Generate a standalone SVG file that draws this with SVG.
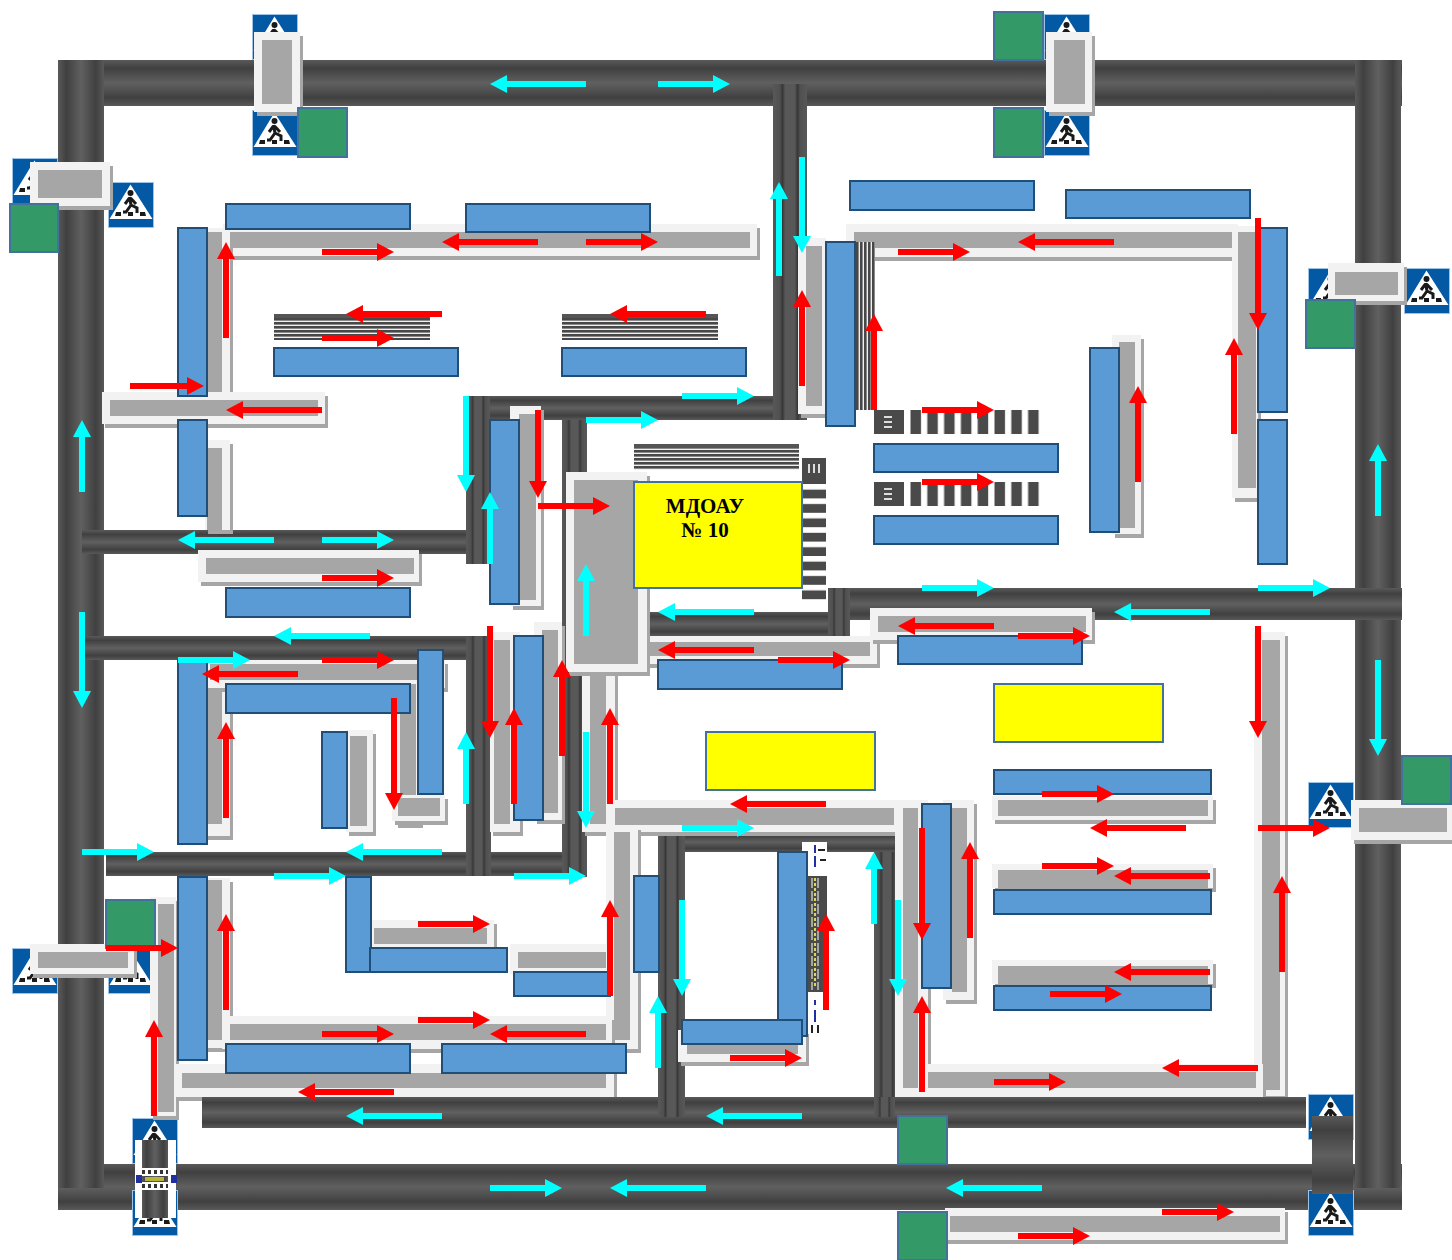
<svg xmlns="http://www.w3.org/2000/svg" width="1452" height="1260" viewBox="0 0 1452 1260">
<style>
.bg{fill:#fff}
.rh{fill:url(#gh)}
.rv{fill:url(#gv)}
.rd{fill:url(#gd)}
.po{fill:#f2f2f2;filter:url(#sh)}
.pi{fill:#a6a6a6}
.b{fill:#5b9bd5;stroke:#1f4e79;stroke-width:2}
.g{fill:#339966;stroke:#41719c;stroke-width:2}
.y{fill:#ffff00;stroke:#41719c;stroke-width:2}
.r{fill:none;stroke:#ff0000;stroke-width:6;marker-end:url(#mr)}
.c{fill:none;stroke:#00ffff;stroke-width:6;marker-end:url(#mc)}
.t{font-family:"Liberation Serif","Times New Roman",serif;font-weight:bold;font-size:21px;fill:#000;text-anchor:middle}
</style>
<defs>
<linearGradient id="gh" x1="0" y1="0" x2="0" y2="1"><stop offset="0" stop-color="#595959"/><stop offset=".18" stop-color="#404040"/><stop offset=".5" stop-color="#606060"/><stop offset=".82" stop-color="#404040"/><stop offset="1" stop-color="#595959"/></linearGradient>
<linearGradient id="gv" x1="0" y1="0" x2="1" y2="0"><stop offset="0" stop-color="#595959"/><stop offset=".18" stop-color="#404040"/><stop offset=".5" stop-color="#606060"/><stop offset=".82" stop-color="#404040"/><stop offset="1" stop-color="#595959"/></linearGradient>
<linearGradient id="gd" x1="0" y1="0" x2="1" y2="0"><stop offset="0" stop-color="#585858"/><stop offset=".2" stop-color="#505050"/><stop offset=".28" stop-color="#383838"/><stop offset=".36" stop-color="#585858"/><stop offset=".64" stop-color="#585858"/><stop offset=".72" stop-color="#383838"/><stop offset=".8" stop-color="#505050"/><stop offset="1" stop-color="#585858"/></linearGradient>
<filter id="sh" x="-10%" y="-10%" width="125%" height="125%"><feDropShadow dx="3" dy="4" stdDeviation="0" flood-color="#a6a6a6"/></filter>
<marker id="mr" markerUnits="userSpaceOnUse" markerWidth="18" markerHeight="18" viewBox="0 0 17 18" refX="1" refY="9" orient="auto"><path d="M0 0L17 9L0 18z" fill="#ff0000"/></marker>
<marker id="mc" markerUnits="userSpaceOnUse" markerWidth="18" markerHeight="18" viewBox="0 0 17 18" refX="1" refY="9" orient="auto"><path d="M0 0L17 9L0 18z" fill="#00ffff"/></marker>
<pattern id="ps" width="4" height="4" patternUnits="userSpaceOnUse" y="2"><rect width="4" height="4" fill="#f0f0f0"/><rect width="4" height="2.6" fill="#484848"/></pattern>
<pattern id="pv" width="4" height="4" patternUnits="userSpaceOnUse"><rect width="4" height="4" fill="#f0f0f0"/><rect width="2.6" height="4" fill="#484848"/></pattern>
<pattern id="pb" width="16.8" height="24" patternUnits="userSpaceOnUse" x="910"><rect width="16.8" height="24" fill="#fff"/><rect width="10.5" height="24" x=".5" fill="#4a4a4a"/></pattern>
<pattern id="pz" width="24" height="14.4" patternUnits="userSpaceOnUse" y="484"><rect width="24" height="14.4" fill="#4a4a4a"/><rect width="24" height="5.6" fill="#fff"/></pattern>
<g id="sign"><rect x=".5" y=".5" width="45" height="45" fill="#0359a4" stroke="#9dc3e6"/><path d="M22.5 2.5L44.5 37H1.5z" fill="#fff"/><circle cx="22.5" cy="11" r="3" fill="#1a1a1a"/><path d="M21.5 15L23 23M21.5 16L17 22M22.5 16L28 22M23 23L18 30H15M23 23L29 26V31" fill="none" stroke="#1a1a1a" stroke-width="3"/><path d="M8 30h5v4H7zM20 30h5v4h-5zM32 30h5l1 4h-6z" fill="#1a1a1a"/></g>
</defs>
<rect class="bg" width="1452" height="1260"/>

<g id="roads">
<rect class="rh" x="58" y="60" width="1344" height="46"/>
<rect class="rh" x="58" y="1164" width="1344" height="46"/>
<rect class="rv" x="58" y="60" width="46" height="1128"/>
<rect class="rv" x="1355" y="60" width="46" height="1128"/>
<rect class="rh" x="490" y="396" width="284" height="24"/>
<rect class="rh" x="82" y="530" width="386" height="24"/>
<rect class="rh" x="84" y="636" width="384" height="24"/>
<rect class="rh" x="646" y="612" width="184" height="24"/>
<rect class="rh" x="850" y="588" width="552" height="32"/>
<rect class="rh" x="106" y="852" width="480" height="24"/>
<rect class="rh" x="658" y="832" width="238" height="20"/>
<rect class="rd" x="773" y="84" width="34" height="336"/>
<rect class="rd" x="466" y="396" width="24" height="168"/>
<rect class="rd" x="562" y="420" width="25" height="457"/>
<rect class="rd" x="466" y="636" width="25" height="240"/>
<rect class="rd" x="828" y="588" width="22" height="48"/>
<rect class="rd" x="658" y="832" width="27" height="285"/>
<rect class="rd" x="874" y="852" width="26" height="265"/>
</g>

<g id="signs">
<use id="sign-1" href="#sign" x="252" y="14"/>
<use id="sign-2" href="#sign" x="252" y="110"/>
<use id="sign-3" href="#sign" x="1044" y="14"/>
<use id="sign-4" href="#sign" x="1044" y="110"/>
<use id="sign-5" href="#sign" x="12" y="158"/>
<use id="sign-6" href="#sign" x="108" y="182"/>
<use id="sign-7" href="#sign" x="1308" y="268"/>
<use id="sign-8" href="#sign" x="1404" y="268"/>
<use id="sign-9" href="#sign" x="1308" y="782"/>
<use id="sign-16" href="#sign" x="1404" y="796"/>
<use id="sign-10" href="#sign" x="12" y="948"/>
<use id="sign-11" href="#sign" x="108" y="948"/>
<use id="sign-12" href="#sign" x="132" y="1118"/>
<use id="sign-13" href="#sign" x="132" y="1190"/>
<use id="sign-14" href="#sign" x="1308" y="1094"/>
<use id="sign-15" href="#sign" x="1308" y="1190"/>
</g>

<g id="pads">
<g id="pad-1"><rect class="po" x="254" y="32" width="46" height="80"/><rect class="pi" x="262" y="40" width="30" height="64"/></g>
<g id="pad-2"><rect class="po" x="1046" y="32" width="46" height="80"/><rect class="pi" x="1054" y="40" width="31" height="64"/></g>
<g id="pad-3"><rect class="po" x="30" y="162" width="80" height="44"/><rect class="pi" x="38" y="170" width="64" height="28"/></g>
<g id="pad-4"><rect class="po" x="1328" y="263" width="76" height="38"/><rect class="pi" x="1335" y="272" width="63" height="23"/></g>
<g id="pad-5"><rect class="po" x="1351" y="800" width="101" height="40"/><rect class="pi" x="1359" y="808" width="88" height="24"/></g>
<g id="pad-6"><rect class="po" x="30" y="944" width="104" height="30"/><rect class="pi" x="38" y="952" width="90" height="16"/></g>
<g id="pad-7"><rect class="po" x="223" y="224" width="534" height="32"/><rect class="pi" x="231" y="232" width="519" height="16"/></g>
<g id="pad-8"><rect class="po" x="205" y="228" width="25" height="172"/><rect class="pi" x="207" y="232" width="15" height="160"/></g>
<g id="pad-9"><rect class="po" x="102" y="392" width="223" height="32"/><rect class="pi" x="110" y="400" width="208" height="16"/></g>
<g id="pad-10"><rect class="po" x="205" y="440" width="25" height="90"/><rect class="pi" x="207" y="448" width="15" height="82"/></g>
<g id="pad-11"><rect class="po" x="198" y="550" width="221" height="32"/><rect class="pi" x="206" y="558" width="208" height="16"/></g>
<g id="pad-12"><rect class="po" x="510" y="406" width="31" height="200"/><rect class="pi" x="519" y="414" width="17" height="186"/></g>
<g id="pad-13"><rect class="po" x="646" y="636" width="231" height="28"/><rect class="pi" x="648" y="642" width="222" height="14"/></g>
<g id="pad-14"><rect class="po" x="582" y="672" width="33" height="160"/><rect class="pi" x="590" y="676" width="16" height="148"/></g>
<g id="pad-15"><rect class="po" x="566" y="472" width="81" height="200"/><rect class="pi" x="574" y="480" width="64" height="184"/></g>
<g id="pad-16"><rect class="po" x="205" y="660" width="25" height="176"/><rect class="pi" x="207" y="664" width="15" height="160"/></g>
<g id="pad-17"><rect class="po" x="205" y="660" width="240" height="28"/><rect class="pi" x="210" y="664" width="230" height="16"/></g>
<g id="pad-18"><rect class="po" x="395" y="684" width="25" height="140"/><rect class="pi" x="400" y="684" width="16" height="116"/></g>
<g id="pad-19"><rect class="po" x="392" y="795" width="53" height="26"/><rect class="pi" x="398" y="798" width="42" height="18"/></g>
<g id="pad-20"><rect class="po" x="346" y="730" width="27" height="102"/><rect class="pi" x="350" y="736" width="17" height="90"/></g>
<g id="pad-21"><rect class="po" x="490" y="632" width="30" height="200"/><rect class="pi" x="494" y="640" width="16" height="184"/></g>
<g id="pad-22"><rect class="po" x="534" y="622" width="28" height="198"/><rect class="pi" x="542" y="630" width="16" height="183"/></g>
<g id="pad-23"><rect class="po" x="606" y="800" width="296" height="32"/><rect class="pi" x="615" y="808" width="279" height="17"/></g>
<g id="pad-24"><rect class="po" x="606" y="826" width="32" height="223"/><rect class="pi" x="614" y="832" width="16" height="208"/></g>
<g id="pad-25"><rect class="po" x="846" y="224" width="392" height="33"/><rect class="pi" x="854" y="232" width="378" height="16"/></g>
<g id="pad-26"><rect class="po" x="1232" y="226" width="26" height="272"/><rect class="pi" x="1238" y="232" width="18" height="256"/></g>
<g id="pad-27"><rect class="po" x="798" y="238" width="28" height="176"/><rect class="pi" x="806" y="246" width="16" height="160"/></g>
<g id="pad-28"><rect class="po" x="1112" y="335" width="29" height="199"/><rect class="pi" x="1119" y="342" width="16" height="186"/></g>
<g id="pad-29"><rect class="po" x="870" y="608" width="222" height="32"/><rect class="pi" x="878" y="616" width="208" height="16"/></g>
<g id="pad-30"><rect class="po" x="992" y="796" width="221" height="24"/><rect class="pi" x="998" y="800" width="210" height="16"/></g>
<g id="pad-31"><rect class="po" x="992" y="864" width="221" height="24"/><rect class="pi" x="998" y="870" width="210" height="18"/></g>
<g id="pad-32"><rect class="po" x="992" y="960" width="221" height="24"/><rect class="pi" x="998" y="966" width="210" height="18"/></g>
<g id="pad-33"><rect class="po" x="1254" y="632" width="31" height="464"/><rect class="pi" x="1262" y="640" width="18" height="450"/></g>
<g id="pad-35"><rect class="po" x="895" y="800" width="33" height="297"/><rect class="pi" x="903" y="808" width="15" height="280"/></g>
<g id="pad-34"><rect class="po" x="928" y="1064" width="335" height="33"/><rect class="pi" x="928" y="1072" width="328" height="16"/></g>
<g id="pad-36"><rect class="po" x="943" y="800" width="31" height="200"/><rect class="pi" x="952" y="808" width="15" height="184"/></g>
<g id="pad-37"><rect class="po" x="370" y="920" width="124" height="28"/><rect class="pi" x="374" y="928" width="113" height="16"/></g>
<g id="pad-38"><rect class="po" x="510" y="944" width="100" height="30"/><rect class="pi" x="518" y="952" width="88" height="16"/></g>
<g id="pad-39"><rect class="po" x="150" y="897" width="26" height="219"/><rect class="pi" x="158" y="904" width="16" height="208"/></g>
<g id="pad-40"><rect class="po" x="205" y="878" width="25" height="170"/><rect class="pi" x="207" y="880" width="15" height="160"/></g>
<g id="pad-41"><rect class="po" x="176" y="1064" width="438" height="33"/><rect class="pi" x="182" y="1073" width="424" height="15"/></g>
<g id="pad-42"><rect class="po" x="222" y="1016" width="390" height="33"/><rect class="pi" x="230" y="1024" width="376" height="16"/></g>
<g id="pad-43"><rect class="po" x="678" y="1030" width="128" height="32"/><rect class="pi" x="687" y="1040" width="111" height="14"/></g>
<g id="pad-44"><rect class="po" x="945" y="1208" width="340" height="32"/><rect class="pi" x="950" y="1216" width="330" height="16"/></g>
</g>

<g id="roads-front">
<rect class="rh" x="202" y="1097" width="1104" height="31"/>
<rect class="rd" x="658" y="1097" width="27" height="20"/>
<rect class="rd" x="874" y="1097" width="21" height="20"/>
</g>

<g id="markings">
<g id="mark-1"><rect x="274" y="314" width="156" height="26" fill="url(#ps)"/><rect x="274" y="314" width="156" height="4" fill="#555"/></g>
<g id="mark-2"><rect x="562" y="314" width="156" height="26" fill="url(#ps)"/><rect x="562" y="314" width="156" height="4" fill="#555"/></g>
<g id="mark-3"><rect x="634" y="444" width="165" height="26" fill="url(#ps)"/><rect x="634" y="444" width="165" height="4" fill="#555"/></g>
<rect id="mark-4" x="856" y="242" width="19" height="168" fill="url(#pv)"/>
<g id="mark-5"><rect x="874" y="410" width="30" height="24" fill="#4a4a4a"/><path d="M884 417h8M884 422h8M884 427h8" stroke="#ddd" stroke-width="2"/><rect x="910" y="410" width="130" height="24" fill="url(#pb)"/></g>
<g id="mark-6"><rect x="874" y="482" width="30" height="24" fill="#4a4a4a"/><path d="M884 489h8M884 494h8M884 499h8" stroke="#ddd" stroke-width="2"/><rect x="910" y="482" width="130" height="24" fill="url(#pb)"/></g>
<g id="mark-7"><rect x="802" y="458" width="24" height="26" fill="#4a4a4a"/><path d="M809 464v9M814 464v9M819 464v9" stroke="#ddd" stroke-width="2"/><rect x="802" y="484" width="24" height="116" fill="url(#pz)"/></g>
<g id="mark-8"><rect x="802" y="842" width="25" height="34" fill="#fff"/><rect x="808" y="876" width="19" height="116" fill="#4a4a4a"/><path d="M815 878V988" fill="none" stroke="#d8d860" stroke-width="2" stroke-dasharray="3 2"/><path d="M812 878V990M818 878V990" fill="none" stroke="#fff" stroke-width="1" stroke-dasharray="10 3"/><path d="M815 845V853M815 856V867M815 1000V1005M815 1010V1022" fill="none" stroke="#2030a0" stroke-width="2"/><path d="M818 850h7M820 860h6M812 1025v8M818 1025v8" fill="none" stroke="#222" stroke-width="2"/></g>
<g id="crossing-1"><rect x="135" y="1140" width="41" height="78" fill="#fff"/><rect x="142" y="1140" width="26" height="78" fill="url(#gv)"/><rect x="142" y="1168" width="26" height="8" fill="#fff"/><rect x="142" y="1182" width="26" height="8" fill="#fff"/><path d="M142 1172h26M142 1186h26" stroke="#333" stroke-width="4" stroke-dasharray="3 3"/><rect x="145" y="1177" width="19" height="4" fill="#b5b53a"/><rect x="136" y="1175" width="6" height="8" fill="#2030a0"/><rect x="171" y="1175" width="6" height="8" fill="#2030a0"/></g>
<rect id="crossing-2" x="1312" y="1116" width="41" height="78" fill="url(#gh)"/>
</g>

<g id="buildings">
<g id="b1"><rect class="b" x="226" y="204" width="184" height="25"/></g>
<g id="b2"><rect class="b" x="466" y="204" width="184" height="28"/></g>
<g id="b3"><rect class="b" x="178" y="228" width="29" height="168"/></g>
<g id="b4"><rect class="b" x="274" y="348" width="184" height="28"/></g>
<g id="b5"><rect class="b" x="562" y="348" width="184" height="28"/></g>
<g id="b6"><rect class="b" x="178" y="420" width="29" height="96"/></g>
<g id="b7"><rect class="b" x="490" y="420" width="29" height="184"/></g>
<g id="b8"><rect class="b" x="850" y="181" width="184" height="29"/></g>
<g id="b9"><rect class="b" x="1066" y="190" width="184" height="28"/></g>
<g id="b10"><rect class="b" x="826" y="242" width="29" height="184"/></g>
<g id="b11"><rect class="b" x="1258" y="228" width="29" height="184"/></g>
<g id="b12"><rect class="b" x="1258" y="420" width="29" height="144"/></g>
<g id="b13"><rect class="b" x="1090" y="348" width="29" height="184"/></g>
<g id="b14"><rect class="b" x="874" y="444" width="184" height="28"/></g>
<g id="b15"><rect class="b" x="874" y="516" width="184" height="28"/></g>
<g id="b16"><rect class="b" x="226" y="588" width="184" height="29"/></g>
<g id="b17"><rect class="b" x="178" y="660" width="29" height="184"/></g>
<g id="b18"><rect class="b" x="226" y="684" width="184" height="29"/></g>
<g id="b19"><rect class="b" x="418" y="650" width="25" height="144"/></g>
<g id="b20"><rect class="b" x="322" y="732" width="25" height="96"/></g>
<g id="b21"><rect class="b" x="514" y="636" width="29" height="184"/></g>
<g id="b22"><rect class="b" x="658" y="660" width="184" height="29"/></g>
<g id="b23"><rect class="b" x="898" y="636" width="184" height="28"/></g>
<g id="b24"><rect class="b" x="994" y="770" width="217" height="24"/></g>
<g id="b25"><rect class="b" x="994" y="890" width="217" height="24"/></g>
<g id="b26"><rect class="b" x="994" y="986" width="217" height="24"/></g>
<g id="b27"><rect class="b" x="922" y="804" width="29" height="184"/></g>
<g id="b28"><rect class="b" x="178" y="877" width="29" height="183"/></g>
<g id="b29"><rect class="b" x="346" y="877" width="25" height="95"/></g>
<g id="b30"><rect class="b" x="370" y="948" width="137" height="24"/></g>
<g id="b31"><rect class="b" x="514" y="972" width="96" height="24"/></g>
<g id="b32"><rect class="b" x="634" y="876" width="25" height="96"/></g>
<g id="b33"><rect class="b" x="778" y="852" width="29" height="184"/></g>
<g id="b34"><rect class="b" x="682" y="1020" width="120" height="24"/></g>
<g id="b35"><rect class="b" x="226" y="1044" width="184" height="29"/></g>
<g id="b36"><rect class="b" x="442" y="1044" width="184" height="29"/></g>
</g>

<g id="school"><rect class="y" x="634" y="482" width="168" height="106"/><text class="t" x="705" y="513">МДОАУ</text><text class="t" x="705" y="537">№ 10</text></g>
<g id="yellow-1"><rect class="y" x="706" y="732" width="169" height="58"/></g>
<g id="yellow-2"><rect class="y" x="994" y="684" width="169" height="58"/></g>

<g id="greens">
<g id="g1"><rect class="g" x="298" y="108" width="49" height="49"/></g>
<g id="g2"><rect class="g" x="994" y="12" width="49" height="48"/></g>
<g id="g3"><rect class="g" x="994" y="108" width="49" height="49"/></g>
<g id="g4"><rect class="g" x="10" y="204" width="48" height="48"/></g>
<g id="g5"><rect class="g" x="1306" y="300" width="49" height="48"/></g>
<g id="g6"><rect class="g" x="1402" y="756" width="49" height="48"/></g>
<g id="g7"><rect class="g" x="106" y="900" width="49" height="48"/></g>
<g id="g8"><rect class="g" x="898" y="1116" width="49" height="48"/></g>
<g id="g9"><rect class="g" x="898" y="1212" width="49" height="48"/></g>
</g>

<g id="connectors">
<path class="c" d="M586 84H506"/><path class="c" d="M658 84H714"/><path class="c" d="M779 276V198"/><path class="c" d="M802 157V237"/><path class="c" d="M682 396H738"/><path class="c" d="M586 420H642"/><path class="c" d="M466 396V476"/><path class="c" d="M490 564V508"/><path class="c" d="M82 492V436"/><path class="c" d="M82 612V692"/><path class="c" d="M274 540H194"/><path class="c" d="M322 540H378"/><path class="c" d="M370 636H290"/><path class="c" d="M178 660H234"/><path class="c" d="M586 636V580"/><path class="c" d="M754 612H674"/><path class="c" d="M922 588H978"/><path class="c" d="M1210 612H1130"/><path class="c" d="M1258 588H1314"/><path class="c" d="M1378 516V460"/><path class="c" d="M1378 660V740"/><path class="c" d="M466 804V748"/><path class="c" d="M586 732V812"/><path class="c" d="M82 852H138"/><path class="c" d="M442 852H362"/><path class="c" d="M274 876H330"/><path class="c" d="M514 876H570"/><path class="c" d="M682 828H738"/><path class="c" d="M874 924V868"/><path class="c" d="M898 900V980"/><path class="c" d="M682 900V980"/><path class="c" d="M658 1068V1012"/><path class="c" d="M442 1116H362"/><path class="c" d="M802 1116H722"/><path class="c" d="M490 1188H546"/><path class="c" d="M706 1188H626"/><path class="c" d="M1042 1188H962"/>
<path class="r" d="M226 338V258"/><path class="r" d="M322 252H378"/><path class="r" d="M538 242H458"/><path class="r" d="M586 242H642"/><path class="r" d="M442 314H362"/><path class="r" d="M322 338H378"/><path class="r" d="M706 314H626"/><path class="r" d="M130 386H188"/><path class="r" d="M322 410H242"/><path class="r" d="M538 410V482"/><path class="r" d="M538 506H594"/><path class="r" d="M802 386V306"/><path class="r" d="M874 410V330"/><path class="r" d="M898 252H954"/><path class="r" d="M1114 242H1034"/><path class="r" d="M1258 218V314"/><path class="r" d="M1234 434V354"/><path class="r" d="M1138 482V402"/><path class="r" d="M922 410H978"/><path class="r" d="M922 482H978"/><path class="r" d="M322 578H378"/><path class="r" d="M322 660H378"/><path class="r" d="M298 674H218"/><path class="r" d="M226 818V738"/><path class="r" d="M394 698V794"/><path class="r" d="M490 626V722"/><path class="r" d="M514 804V724"/><path class="r" d="M562 756V676"/><path class="r" d="M610 804V724"/><path class="r" d="M754 650H674"/><path class="r" d="M778 660H834"/><path class="r" d="M994 626H914"/><path class="r" d="M1018 636H1074"/><path class="r" d="M1258 626V722"/><path class="r" d="M826 804H746"/><path class="r" d="M1042 794H1098"/><path class="r" d="M1186 828H1106"/><path class="r" d="M1258 828H1314"/><path class="r" d="M1042 866H1098"/><path class="r" d="M1210 876H1130"/><path class="r" d="M922 828V924"/><path class="r" d="M970 938V858"/><path class="r" d="M1282 972V892"/><path class="r" d="M1210 972H1130"/><path class="r" d="M1050 994H1106"/><path class="r" d="M922 1092V1012"/><path class="r" d="M826 1010V930"/><path class="r" d="M1258 1068H1178"/><path class="r" d="M994 1082H1050"/><path class="r" d="M730 1058H786"/><path class="r" d="M610 996V916"/><path class="r" d="M226 1010V930"/><path class="r" d="M418 924H474"/><path class="r" d="M106 948H162"/><path class="r" d="M154 1116V1036"/><path class="r" d="M322 1034H378"/><path class="r" d="M418 1020H474"/><path class="r" d="M586 1034H506"/><path class="r" d="M394 1092H314"/><path class="r" d="M1162 1212H1218"/><path class="r" d="M1018 1236H1074"/>
</g>
</svg>
